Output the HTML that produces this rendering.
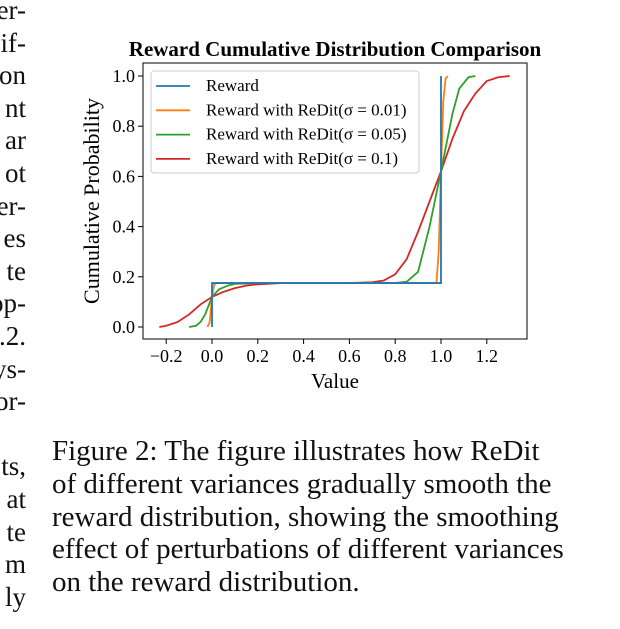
<!DOCTYPE html>
<html><head><meta charset="utf-8"><style>
body{margin:0;background:#fff;width:620px;height:629px;overflow:hidden;position:relative;font-family:"Liberation Serif",serif}
.lt{position:absolute;right:594px;font-size:27px;line-height:30px;white-space:nowrap;color:#111}
#cap{position:absolute;left:52px;top:435px;font-size:29px;line-height:32.8px;color:#111;white-space:nowrap}
</style></head><body>
<div id="left"></div>
<svg id="chart" width="620" height="420" style="position:absolute;left:0;top:0" font-family="Liberation Serif, serif"></svg>
<div id="cap">Figure 2: The figure illustrates how ReDit<br>of different variances gradually smooth the<br>reward distribution, showing the smoothing<br>effect of perturbations of different variances<br>on the reward distribution.</div>
<script>
const leftLines=["er-","if-","on","nt","ar","ot","er-","es","te","op-",".2.","ys-","or-","","ts,","at","te","m","ly"];
const xTicks=[-0.2,0,0.2,0.4,0.6,0.8,1.0,1.2];
const yTicks=[0,0.2,0.4,0.6,0.8,1.0];
const seriesNames=["Reward","Reward with ReDit(σ = 0.01)","Reward with ReDit(σ = 0.05)","Reward with ReDit(σ = 0.1)"];
const seriesColors=["#1f77b4","#ff7f0e","#2ca02c","#d62728"];
const blueX=[0,0,1.0,1.0];
const blueY=[0,0.175,0.175,1.0];
const orangeX=[-0.02,-0.01,0,0.01,0.02,0.98,0.99,1.0,1.01,1.02,1.03];
const orangeY=[0,0.02,0.12,0.17,0.175,0.175,0.3,0.62,0.9,0.99,1.0];
const greenX=[-0.1,-0.07,-0.05,-0.03,0,0.03,0.07,0.1,0.2,0.8,0.85,0.9,0.95,1.0,1.05,1.08,1.12,1.15];
const greenY=[0,0.005,0.02,0.05,0.12,0.15,0.165,0.172,0.175,0.175,0.18,0.22,0.4,0.62,0.85,0.95,0.995,1.0];
const redX=[-0.23,-0.2,-0.15,-0.1,-0.05,0,0.05,0.1,0.15,0.2,0.3,0.4,0.6,0.7,0.75,0.8,0.85,0.9,0.95,1.0,1.05,1.1,1.15,1.2,1.25,1.3];
const redY=[0,0.005,0.02,0.05,0.09,0.12,0.14,0.155,0.165,0.17,0.175,0.175,0.175,0.178,0.185,0.21,0.27,0.38,0.5,0.62,0.75,0.86,0.93,0.98,0.995,1.0];
const allX=[blueX,orangeX,greenX,redX], allY=[blueY,orangeY,greenY,redY];

const L=document.getElementById('left');
leftLines.forEach((t,i)=>{const d=document.createElement('div');d.className='lt';d.style.top=(-5+i*32.6)+'px';d.textContent=t;


L.appendChild(d);});

const S=document.getElementById('chart'),NS='http://www.w3.org/2000/svg';
function el(tag,a,p){const e=document.createElementNS(NS,tag);for(const k in a)e.setAttribute(k,a[k]);(p||S).appendChild(e);return e;}
const sx=v=>212+v*229, sy=v=>327-v*251;
const t=el('text',{x:335,y:56,'text-anchor':'middle','font-size':21,'font-weight':'bold'});t.textContent='Reward Cumulative Distribution Comparison';


const frame=el('rect',{x:143,y:63,width:384,height:276,fill:'none',stroke:'#000','stroke-width':1});


xTicks.forEach(v=>{const x=sx(v);el('line',{x1:x,x2:x,y1:339,y2:344,stroke:'#000'});
const tx=el('text',{x:x,y:362,'text-anchor':'middle','font-size':18});tx.textContent=(v<0?'−':'')+Math.abs(v).toFixed(1);

});
yTicks.forEach(v=>{const y=sy(v);el('line',{x1:138,x2:143,y1:y,y2:y,stroke:'#000'});
const ty=el('text',{x:135,y:y+6,'text-anchor':'end','font-size':18});ty.textContent=v.toFixed(1);

});
const xl=el('text',{x:335,y:388,'text-anchor':'middle','font-size':21});xl.textContent='Value';


const yl=el('text',{x:0,y:0,'text-anchor':'middle','font-size':22,transform:'translate(99,201) rotate(-90)'});yl.textContent='Cumulative Probability';


[3,2,1,0].forEach(i=>{const pts=allX[i].map((x,j)=>sx(x)+','+sy(allY[i][j])).join(' ');
const pl=el('polyline',{points:pts,fill:'none',stroke:seriesColors[i],'stroke-width':1.8});

});
const lg=el('rect',{x:151,y:71,width:268,height:102,fill:'#fff','fill-opacity':0.85,stroke:'#ccc',rx:3});


seriesNames.forEach((n,i)=>{const y=86+i*24.3;el('line',{x1:156,x2:190,y1:y,y2:y,stroke:seriesColors[i],'stroke-width':1.8});
const tt=el('text',{x:206,y:y+5,'font-size':17});tt.textContent=n;

});
</script>
</body></html>
